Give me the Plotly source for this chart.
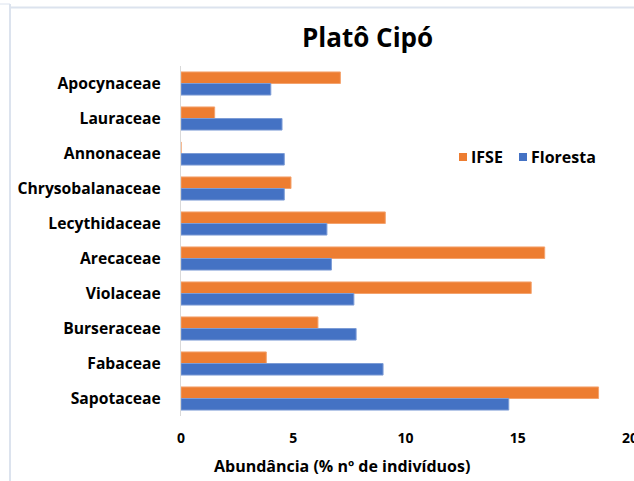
import plotly.graph_objects as go

# Data
familias = ['Apocynaceae', 'Lauraceae', 'Annonaceae', 'Chrysobalanaceae', 'Lecythidaceae',
            'Arecaceae', 'Violaceae', 'Burseraceae', 'Fabaceae', 'Sapotaceae']
ifse = [7.1, 1.5, 0.0, 4.9, 9.1, 16.2, 15.6, 6.1, 3.8, 18.6]
floresta = [4.0, 4.5, 4.6, 4.6, 6.5, 6.7, 7.7, 7.8, 9.0, 14.6]
x_ticks = [0, 5, 10, 15, 20]

W, H = 634, 481
L, R, T, B = 181, 4, 66, 65
FONT = 'Open Sans'
ORANGE, BLUE = '#ED7D31', '#4472C4'


def px_x(p):
    return (p - L) / (W - L - R)


def px_y(p):
    return (H - B - p) / (H - T - B)


fig = go.Figure()
fig.add_trace(go.Bar(y=familias, x=ifse, orientation='h', name='IFSE',
                     marker=dict(color=ORANGE, line=dict(color='#F4A36E', width=1))))
fig.add_trace(go.Bar(y=familias, x=floresta, orientation='h', name='Floresta',
                     marker=dict(color=BLUE, line=dict(color='#7C9CD6', width=1))))

# legend drawn by hand so the small squares sit right against the labels
legend_items = [('IFSE', ORANGE, 459), ('Floresta', BLUE, 519)]
legend_notes, legend_keys = [], []
for name, c, x0 in legend_items:
    legend_keys.append(dict(type='rect', xref='paper', yref='paper',
                            x0=px_x(x0), x1=px_x(x0 + 8), y0=px_y(153), y1=px_y(161),
                            fillcolor=c, line=dict(width=0)))
    legend_notes.append(dict(text=name, x=px_x(x0 + 10), y=px_y(157), xref='paper', yref='paper',
                             showarrow=False, xanchor='left', yanchor='middle',
                             font=dict(size=16, weight='bold')))

fig.update_layout(
    width=W, height=H,
    margin=dict(l=L, r=R, t=T, b=B),
    paper_bgcolor='white', plot_bgcolor='white',
    barmode='group', bargap=0.34, bargroupgap=0,
    font=dict(family=FONT, color='black'),
    showlegend=False,
    xaxis=dict(range=[0, 20], tickvals=x_ticks, showgrid=False, zeroline=False,
               showline=False, ticks='', tickfont=dict(size=14, weight='bold'),
               ticklabelstandoff=12, ticklabeloverflow='allow', automargin=False),
    yaxis=dict(autorange='reversed', showgrid=False, zeroline=False,
               showline=True, linecolor='#D9D9D9', linewidth=1, ticks='',
               tickfont=dict(size=15.7, weight='bold'), ticklabelstandoff=16,
               automargin=False),
    annotations=[
        dict(text='Platô Cipó', x=px_x(367), y=px_y(37), xref='paper', yref='paper',
             showarrow=False, xanchor='center', yanchor='middle',
             font=dict(size=26, weight='bold')),
        dict(text='Abundância (% nº de indivíduos)', x=px_x(342), y=px_y(466),
             xref='paper', yref='paper', showarrow=False, xanchor='center', yanchor='middle',
             font=dict(size=16, weight='bold')),
    ] + legend_notes,
    shapes=[
        dict(type='line', xref='paper', yref='paper', x0=px_x(10), x1=px_x(634),
             y0=px_y(7.5), y1=px_y(7.5), line=dict(color='#DCE3EE', width=2)),
        dict(type='line', xref='paper', yref='paper', x0=px_x(10), x1=px_x(10),
             y0=px_y(4), y1=px_y(481), line=dict(color='#DCE3EE', width=2)),
        dict(type='line', xref='paper', yref='paper', x0=px_x(0), x1=px_x(10),
             y0=px_y(4), y1=px_y(4), line=dict(color='#DCE3EE', width=1)),
    ] + legend_keys,
)

# page body has a default 8px margin; drop it so the figure fills the window
fig.write_html("out.html", config={'displayModeBar': False},
               post_script="document.body.style.margin='0';document.body.style.overflow='hidden';")
